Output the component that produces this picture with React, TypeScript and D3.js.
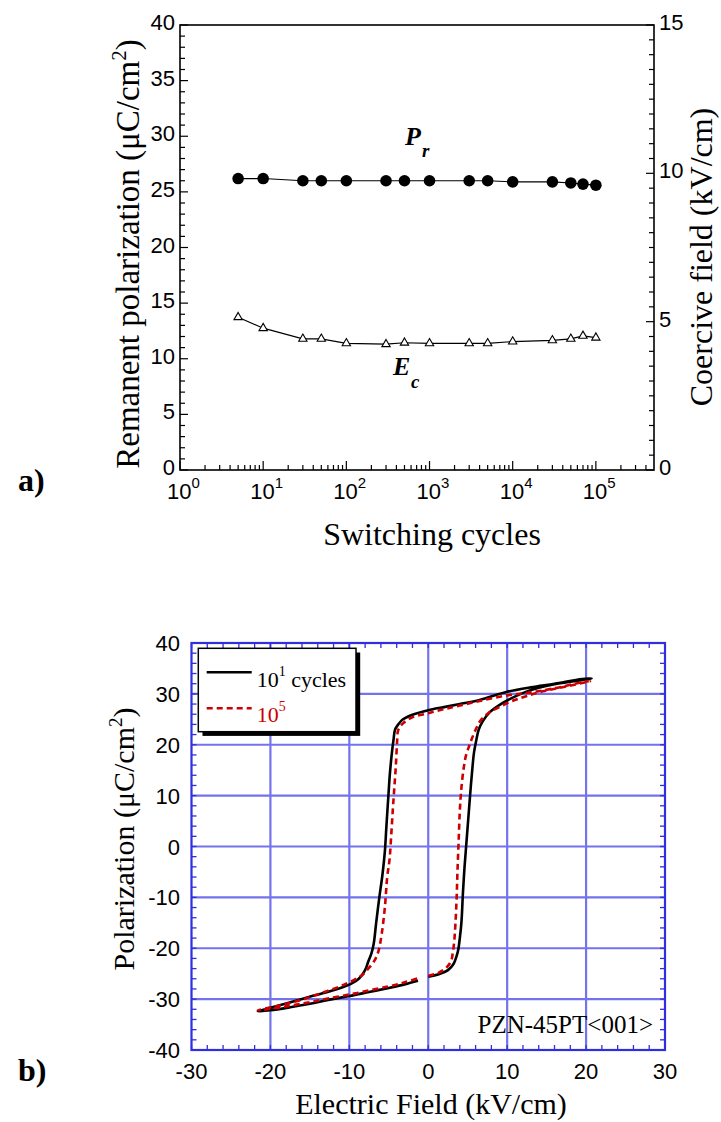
import React from "react";
import * as d3 from "d3";

const W = 721;
const H = 1122;
const SERIF = "'Liberation Serif', 'Times New Roman', serif";
const SANS = "'Liberation Sans', Arial, sans-serif";

// ---- panel a) : switching cycles ----
const cycles = [5, 10, 30, 50, 100, 300, 500, 1000, 3000, 5000, 1e4, 3e4, 5e4, 7e4, 1e5];
const remanentPol = [26.2, 26.2, 26.0, 26.0, 26.0, 26.0, 26.0, 26.0, 26.0, 26.0, 25.9, 25.9, 25.8, 25.7, 25.6];
const coerciveField = [5.15, 4.78, 4.42, 4.42, 4.27, 4.24, 4.29, 4.27, 4.27, 4.27, 4.33, 4.37, 4.42, 4.52, 4.46];
const decadeTicks = [0, 1, 2, 3, 4, 5];
const leftTicks = [0, 5, 10, 15, 20, 25, 30, 35, 40];
const rightTicks = [0, 5, 10, 15];

// ---- panel b) : P-E loops [E (kV/cm), P (uC/cm2)] ----
const loop10: [number, number][] = [
  [0, -25.6], [1.5, -25.0], [2.5, -24.3], [3.2, -23.1], [3.6, -21.5], [3.8, -20.3], [4.0, -18.0],
  [4.2, -15.0], [4.4, -9.0], [4.6, -4.0], [4.85, 1.0], [5.1, 6.0], [5.35, 11.0], [5.6, 15.5],
  [5.8, 18.5], [6.1, 21.0], [6.4, 23.0], [6.9, 24.6], [7.8, 26.4], [9.0, 27.8], [10.5, 29.1],
  [12.2, 30.3], [14.0, 31.2], [16.0, 31.9], [18.5, 32.5], [20.7, 33.0],
  [19.5, 32.9], [16.0, 32.0], [13.0, 31.3], [10.0, 30.4], [6.5, 28.8], [4.0, 28.0], [2.0, 27.4],
  [0, 26.8], [-2.0, 25.9], [-3.2, 25.0], [-3.8, 24.0], [-4.2, 23.0], [-4.4, 21.0], [-4.6, 18.5],
  [-4.85, 14.5], [-5.05, 10.0], [-5.3, 4.0], [-5.5, -1.0], [-5.8, -5.5], [-6.2, -10.0], [-6.6, -15.0],
  [-6.9, -19.0], [-7.2, -21.0], [-7.6, -22.6], [-8.0, -24.3], [-8.8, -26.0], [-9.8, -27.0],
  [-11.5, -28.0], [-14.5, -29.3], [-17.9, -30.8], [-20.0, -31.7], [-21.6, -32.4],
  [-20.0, -32.2], [-17.5, -31.6], [-15.0, -30.9], [-12.5, -30.1], [-10.0, -29.4], [-7.5, -28.6],
  [-5.0, -27.8], [-3.0, -27.1], [-1.3, -26.4],
];
const loop1e5: [number, number][] = [
  [0, -25.4], [1.2, -24.9], [2.3, -23.8], [2.9, -22.5], [3.1, -21.0], [3.3, -18.5], [3.45, -15.0],
  [3.6, -10.0], [3.7, -5.0], [3.85, 1.0], [4.0, 7.0], [4.2, 11.5], [4.5, 15.5], [4.8, 18.0],
  [5.2, 19.8], [5.6, 21.5], [6.1, 23.3], [6.6, 24.7], [7.6, 26.2], [9.0, 27.4], [10.8, 28.7],
  [12.5, 29.6], [14.5, 30.5], [17.0, 31.3], [20.5, 32.5],
  [19.5, 32.3], [16.0, 31.1], [13.0, 30.3], [10.0, 29.7], [6.5, 28.6], [4.0, 27.7], [2.0, 27.0],
  [0, 26.2], [-2.0, 25.4], [-3.2, 24.2], [-3.8, 22.9], [-3.95, 20.5], [-4.1, 16.0], [-4.3, 11.5],
  [-4.5, 7.0], [-4.7, 2.0], [-4.9, -2.5], [-5.2, -6.0], [-5.5, -12.0], [-5.9, -17.2], [-6.3, -20.5],
  [-6.8, -22.4], [-7.6, -24.0], [-8.4, -25.3], [-9.5, -26.3], [-11.2, -27.5], [-13.7, -28.9],
  [-16.2, -30.2], [-19.0, -31.3], [-21.6, -32.2],
  [-20.0, -31.9], [-17.5, -31.3], [-15.0, -30.6], [-12.5, -29.8], [-10.0, -29.1], [-7.5, -28.3],
  [-5.0, -27.5], [-3.0, -26.7], [-1.3, -25.9],
];
const fieldTicks = [-30, -20, -10, 0, 10, 20, 30];
const polTicks = [-40, -30, -20, -10, 0, 10, 20, 30, 40];

const A = { left: 180, right: 654, top: 25, bottom: 470 };
const B = { left: 191.5, right: 665, top: 643, bottom: 1050 };
const BLUE = "#2f2fe0";
const GRID = "#7373ec";

function PanelA() {
  const x = d3.scaleLog().domain([1, 5e5]).range([A.left, A.right]);
  const yL = d3.scaleLinear().domain([0, 40]).range([A.bottom, A.top]);
  const yR = d3.scaleLinear().domain([0, 15]).range([A.bottom, A.top]);

  const minorX: number[] = [];
  decadeTicks.forEach((d) => {
    for (let k = 2; k <= 9; k++) {
      const v = Math.pow(10, d) * k;
      if (v < 5e5) minorX.push(v);
    }
  });
  const minorL = d3.range(0, 41, 1);
  const minorR = d3.range(0, 15.01, 0.5);

  const prLine = d3.line<number>().x((_, i) => x(cycles[i])).y((v) => yL(v))(remanentPol) || "";
  const ecLine = d3.line<number>().x((_, i) => x(cycles[i])).y((v) => yR(v))(coerciveField) || "";
  const tri = d3.symbol().type(d3.symbolTriangle).size(30)() || "";

  return (
    <g>
      {minorL.map((v) => (
        <line key={"ml" + v} x1={A.left} x2={A.left + (v % 5 === 0 ? 8 : 5)} y1={yL(v)} y2={yL(v)} stroke="#000" strokeWidth={1.2} />
      ))}
      {minorR.map((v) => (
        <line key={"mr" + v} x1={A.right} x2={A.right - (v % 5 === 0 ? 8 : 5)} y1={yR(v)} y2={yR(v)} stroke="#000" strokeWidth={1.2} />
      ))}
      {minorX.map((v) => (
        <line key={"mx" + v} x1={x(v)} x2={x(v)} y1={A.bottom} y2={A.bottom - 5} stroke="#000" strokeWidth={1.2} />
      ))}
      {decadeTicks.map((d) => (
        <line key={"Mx" + d} x1={x(Math.pow(10, d))} x2={x(Math.pow(10, d))} y1={A.bottom} y2={A.bottom - 9} stroke="#000" strokeWidth={1.2} />
      ))}
      <rect x={A.left} y={A.top} width={A.right - A.left} height={A.bottom - A.top} fill="none" stroke="#000" strokeWidth={1.6} />

      {leftTicks.map((v) => (
        <text key={"tl" + v} x={A.left - 5} y={yL(v) + 5} textAnchor="end" fontFamily={SANS} fontSize={22}>{v}</text>
      ))}
      {rightTicks.map((v) => (
        <text key={"tr" + v} x={A.right + 5} y={yR(v) + 5} textAnchor="start" fontFamily={SANS} fontSize={22}>{v}</text>
      ))}
      {decadeTicks.map((d) => (
        <text key={"tx" + d} x={x(Math.pow(10, d)) - 13} y={499} fontFamily={SANS} fontSize={22}>
          10<tspan dy={-11} fontSize={15}>{d}</tspan>
        </text>
      ))}

      <path d={prLine} fill="none" stroke="#000" strokeWidth={1.2} />
      {remanentPol.map((v, i) => (
        <circle key={"pr" + i} cx={x(cycles[i])} cy={yL(v)} r={5.8} fill="#000" />
      ))}
      <path d={ecLine} fill="none" stroke="#000" strokeWidth={1.2} />
      {coerciveField.map((v, i) => (
        <path key={"ec" + i} d={tri} transform={`translate(${x(cycles[i])},${yR(v)})`} fill="#fff" stroke="#000" strokeWidth={1.1} />
      ))}

      <text x={405} y={145} fontFamily={SERIF} fontSize={26} fontWeight="bold" fontStyle="italic">P</text>
      <text x={422} y={157} fontFamily={SERIF} fontSize={19} fontWeight="bold" fontStyle="italic">r</text>
      <text x={393} y={375} fontFamily={SERIF} fontSize={26} fontWeight="bold" fontStyle="italic">E</text>
      <text x={411} y={388} fontFamily={SERIF} fontSize={19} fontWeight="bold" fontStyle="italic">c</text>

      <text transform="translate(139,254) rotate(-90)" textAnchor="middle" fontFamily={SERIF} fontSize={33}>
        Remanent polarization (μC/cm<tspan dy={-13} fontSize={21}>2</tspan><tspan dy={13}>)</tspan>
      </text>
      <text transform="translate(712,257) rotate(-90)" textAnchor="middle" fontFamily={SERIF} fontSize={32}>
        Coercive field (kV/cm)
      </text>
      <text x={432} y={545} textAnchor="middle" fontFamily={SERIF} fontSize={32}>Switching cycles</text>
      <text x={18} y={491} fontFamily={SERIF} fontSize={32} fontWeight="bold">a)</text>
    </g>
  );
}

function PanelB() {
  const x = d3.scaleLinear().domain([-30, 30]).range([B.left, B.right]);
  const y = d3.scaleLinear().domain([-40, 40]).range([B.bottom, B.top]);
  const line = d3.line<[number, number]>().x((d) => x(d[0])).y((d) => y(d[1])).curve(d3.curveCatmullRom.alpha(0.5));
  const minorX = d3.range(-30, 30.01, 2);
  const minorY = d3.range(-40, 40.01, 2);

  return (
    <g>
      {fieldTicks.slice(1, -1).map((v) => (
        <line key={"gx" + v} x1={x(v)} x2={x(v)} y1={B.top} y2={B.bottom} stroke={GRID} strokeWidth={2.2} />
      ))}
      {polTicks.slice(1, -1).map((v) => (
        <line key={"gy" + v} x1={B.left} x2={B.right} y1={y(v)} y2={y(v)} stroke={GRID} strokeWidth={2.2} />
      ))}
      {minorX.map((v) => (
        <g key={"tx" + v}>
          <line x1={x(v)} x2={x(v)} y1={B.bottom} y2={B.bottom - 5} stroke={BLUE} strokeWidth={1.3} />
          <line x1={x(v)} x2={x(v)} y1={B.top} y2={B.top + 5} stroke={BLUE} strokeWidth={1.3} />
        </g>
      ))}
      {minorY.map((v) => (
        <g key={"ty" + v}>
          <line x1={B.left} x2={B.left + 5} y1={y(v)} y2={y(v)} stroke={BLUE} strokeWidth={1.3} />
          <line x1={B.right} x2={B.right - 5} y1={y(v)} y2={y(v)} stroke={BLUE} strokeWidth={1.3} />
        </g>
      ))}
      <rect x={B.left} y={B.top} width={B.right - B.left} height={B.bottom - B.top} fill="none" stroke={BLUE} strokeWidth={2.2} />

      {fieldTicks.map((v) => (
        <text key={"lx" + v} x={x(v)} y={1079} textAnchor="middle" fontFamily={SANS} fontSize={22}>{v}</text>
      ))}
      {polTicks.map((v) => (
        <text key={"ly" + v} x={180} y={y(v) + 8} textAnchor="end" fontFamily={SANS} fontSize={22}>{v}</text>
      ))}

      <path d={line(loop10) || ""} fill="none" stroke="#000" strokeWidth={2.6} strokeLinejoin="round" />
      <path d={line(loop1e5) || ""} fill="none" stroke="#cc0000" strokeWidth={2.6} strokeDasharray="6,4" />

      <rect x={202.5} y={652.5} width={157.7} height={83.4} fill="#000" />
      <rect x={198.3} y={648.3} width={157.7} height={83.4} fill="#fff" stroke="#000" strokeWidth={1.5} />
      <line x1={206.7} x2={251.7} y1={672.3} y2={672.3} stroke="#000" strokeWidth={2.6} />
      <text x={256.7} y={686.7} fontFamily={SERIF} fontSize={22}>
        10<tspan dy={-11} fontSize={14}>1</tspan><tspan dy={11}> cycles</tspan>
      </text>
      <line x1={206.7} x2={251.7} y1={708.3} y2={708.3} stroke="#cc0000" strokeWidth={2.6} strokeDasharray="6,4" />
      <text x={256.7} y={721.7} fontFamily={SERIF} fontSize={22} fill="#cc0000">
        10<tspan dy={-11} fontSize={14}>5</tspan>
      </text>

      <text x={653} y={1033} textAnchor="end" fontFamily={SERIF} fontSize={25}>PZN-45PT&lt;001&gt;</text>

      <text transform="translate(134,839) rotate(-90)" textAnchor="middle" fontFamily={SERIF} fontSize={30}>
        Polarization (μC/cm<tspan dy={-12} fontSize={19}>2</tspan><tspan dy={12}>)</tspan>
      </text>
      <text x={431} y={1114} textAnchor="middle" fontFamily={SERIF} fontSize={30}>Electric Field (kV/cm)</text>
      <text x={18} y={1081} fontFamily={SERIF} fontSize={32} fontWeight="bold">b)</text>
    </g>
  );
}

export default function App() {
  return (
    <svg width={W} height={H} style={{ position: "absolute", left: 0, top: 0, background: "#fff" }}>
      <rect width={W} height={H} fill="#fff" />
      <PanelA />
      <PanelB />
    </svg>
  );
}
